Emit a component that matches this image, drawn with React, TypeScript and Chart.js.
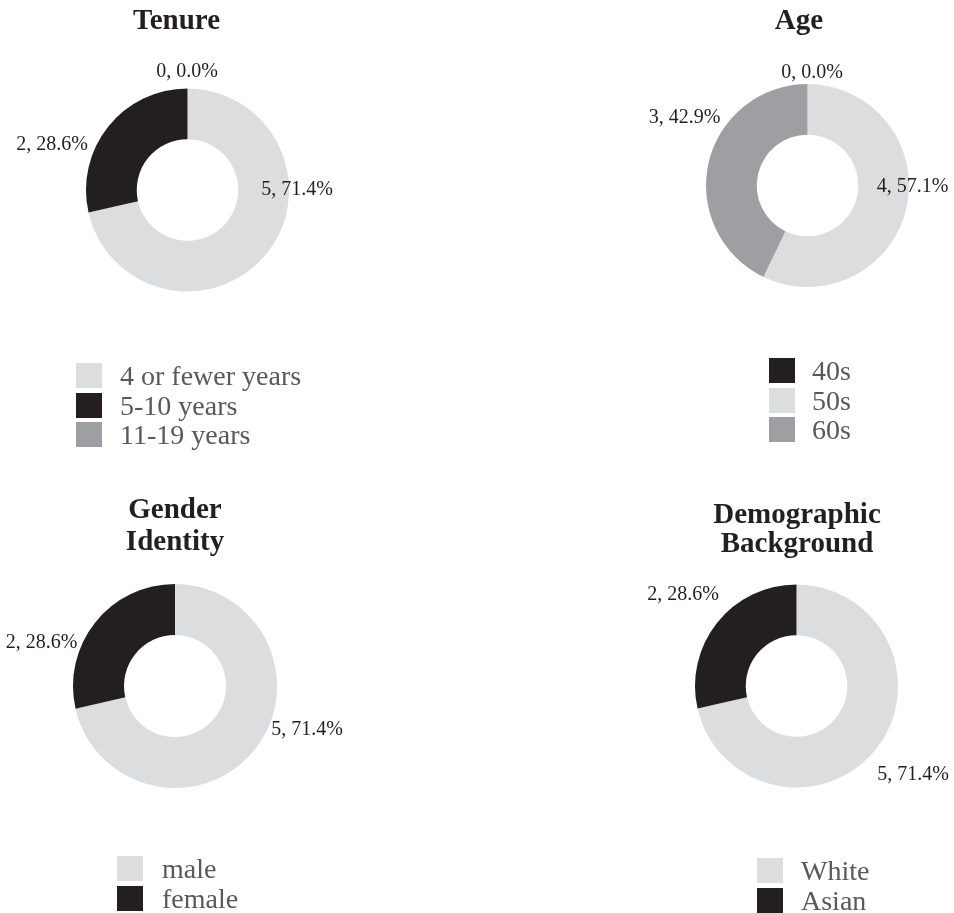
import React, { useEffect, useRef } from "react";
import { Chart, registerables } from "chart.js";

Chart.register(...registerables);

const LIGHT = "#dcdddf";
const DARK = "#231f20";
const MID = "#9d9fa2";

// ---- data ----
const tenureLabels = ["4 or fewer years", "5-10 years", "11-19 years"];
const tenureValues = [5, 2, 0];
const tenureColors = [LIGHT, DARK, MID];

const ageLabels = ["40s", "50s", "60s"];
const ageValues = [0, 4, 3];
const ageColors = [DARK, LIGHT, MID];

const genderLabels = ["male", "female"];
const genderValues = [5, 2];
const genderColors = [LIGHT, DARK];

const demoLabels = ["White", "Asian"];
const demoValues = [5, 2];
const demoColors = [LIGHT, DARK];

// ---- layout ----
type Panel = {
  title: { text: string; baseline: number }[];
  titleX: number;
  labels: string[];
  values: number[];
  colors: string[];
  legendOrder: number[];
  canvas: { left: number; top: number; width: number; height: number };
  center: { x: number; y: number; r: number };
  labelOffsets: ([number, number] | null)[];
  legend: { left: number; top: number; textGap: number };
};

const panels: Panel[] = [
  {
    title: [{ text: "Tenure", baseline: 29 }],
    titleX: 176.5,
    labels: tenureLabels,
    values: tenureValues,
    colors: tenureColors,
    legendOrder: [0, 1, 2],
    canvas: { left: 0, top: 0, width: 477, height: 456 },
    center: { x: 187.5, y: 190, r: 101.5 },
    labelOffsets: [[109.5, 0], [-135.5, -45], [-0.5, -118]],
    legend: { left: 76, top: 361, textGap: 18 },
  },
  {
    title: [{ text: "Age", baseline: 29 }],
    titleX: 799,
    labels: ageLabels,
    values: ageValues,
    colors: ageColors,
    legendOrder: [0, 1, 2],
    canvas: { left: 477, top: 0, width: 477, height: 456 },
    center: { x: 807.5, y: 185.5, r: 101.5 },
    labelOffsets: [[4.5, -112.5], [105, 1.5], [-123, -67.5]],
    legend: { left: 769, top: 356, textGap: 17 },
  },
  {
    title: [
      { text: "Gender", baseline: 518 },
      { text: "Identity", baseline: 550 },
    ],
    titleX: 175,
    labels: genderLabels,
    values: genderValues,
    colors: genderColors,
    legendOrder: [0, 1],
    canvas: { left: 0, top: 456, width: 477, height: 457 },
    center: { x: 175, y: 686, r: 102 },
    labelOffsets: [[132, 44], [-133.5, -43]],
    legend: { left: 117, top: 854, textGap: 19 },
  },
  {
    title: [
      { text: "Demographic", baseline: 523 },
      { text: "Background", baseline: 552 },
    ],
    titleX: 797,
    labels: demoLabels,
    values: demoValues,
    colors: demoColors,
    legendOrder: [0, 1],
    canvas: { left: 477, top: 456, width: 477, height: 457 },
    center: { x: 796.5, y: 686, r: 101.5 },
    labelOffsets: [[116.5, 89], [-113.5, -91]],
    legend: { left: 757, top: 856, textGap: 18 },
  },
];

const SERIF = "'Liberation Serif', 'Times New Roman', serif";

function DoughnutPanel({ p }: { p: Panel }) {
  const ref = useRef<HTMLCanvasElement | null>(null);
  useEffect(() => {
    if (!ref.current) return;
    const c = p.canvas;
    const cx = p.center.x - c.left;
    const cy = p.center.y - c.top;
    const r = p.center.r;
    const padding = {
      left: cx - r,
      right: c.width - (cx + r),
      top: cy - r,
      bottom: c.height - (cy + r),
    };
    const labelPlugin = {
      id: "sliceLabels",
      afterDatasetsDraw(chart: any) {
        const ctx = chart.ctx;
        const meta = chart.getDatasetMeta(0);
        const arc0 = meta.data[0];
        const ox = arc0.x;
        const oy = arc0.y;
        const total = p.values.reduce((a, b) => a + b, 0);
        ctx.save();
        ctx.font = `20px ${SERIF}`;
        ctx.fillStyle = DARK;
        ctx.textAlign = "center";
        ctx.textBaseline = "middle";
        p.values.forEach((v, i) => {
          const off = p.labelOffsets[i];
          if (!off) return;
          const pct = total ? (v / total) * 100 : 0;
          ctx.fillText(`${v}, ${pct.toFixed(1)}%`, ox + off[0], oy + off[1]);
        });
        ctx.restore();
      },
    };
    const chart = new Chart(ref.current, {
      type: "doughnut",
      data: {
        labels: p.labels,
        datasets: [
          {
            data: p.values,
            backgroundColor: p.colors,
            borderWidth: 0,
          },
        ],
      },
      options: {
        responsive: false,
        animation: false,
        cutout: "50%",
        layout: { padding },
        plugins: {
          legend: { display: false },
          tooltip: { enabled: false },
        },
      },
      plugins: [labelPlugin],
    });
    return () => chart.destroy();
  }, [p]);

  return (
    <>
      <canvas
        ref={ref}
        width={p.canvas.width}
        height={p.canvas.height}
        style={{
          position: "absolute",
          left: p.canvas.left,
          top: p.canvas.top,
          width: p.canvas.width,
          height: p.canvas.height,
        }}
      />
      {p.title.map((t, i) => (
        <div
          key={i}
          style={{
            position: "absolute",
            left: p.titleX - 150,
            width: 300,
            top: t.baseline - 24.5,
            textAlign: "center",
            font: `bold 29px ${SERIF}`,
            lineHeight: "29px",
            color: DARK,
            whiteSpace: "nowrap",
          }}
        >
          {t.text}
        </div>
      ))}
      <div
        style={{
          position: "absolute",
          left: p.legend.left,
          top: p.legend.top,
          font: `28px ${SERIF}`,
          color: "#58595b",
        }}
      >
        {p.legendOrder.map((i) => (
          <div
            key={i}
            style={{
              display: "flex",
              alignItems: "center",
              height: 29.5,
              lineHeight: "29.5px",
              whiteSpace: "nowrap",
            }}
          >
            <span
              style={{
                display: "inline-block",
                width: 26,
                height: 25,
                background: p.colors[i],
                marginRight: p.legend.textGap,
                flex: "none",
              }}
            />
            <span>{p.labels[i]}</span>
          </div>
        ))}
      </div>
    </>
  );
}

export default function App() {
  return (
    <div
      style={{
        position: "absolute",
        left: 0,
        top: 0,
        width: 954,
        height: 913,
        background: "#ffffff",
        overflow: "hidden",
      }}
    >
      {panels.map((p, i) => (
        <DoughnutPanel key={i} p={p} />
      ))}
    </div>
  );
}
